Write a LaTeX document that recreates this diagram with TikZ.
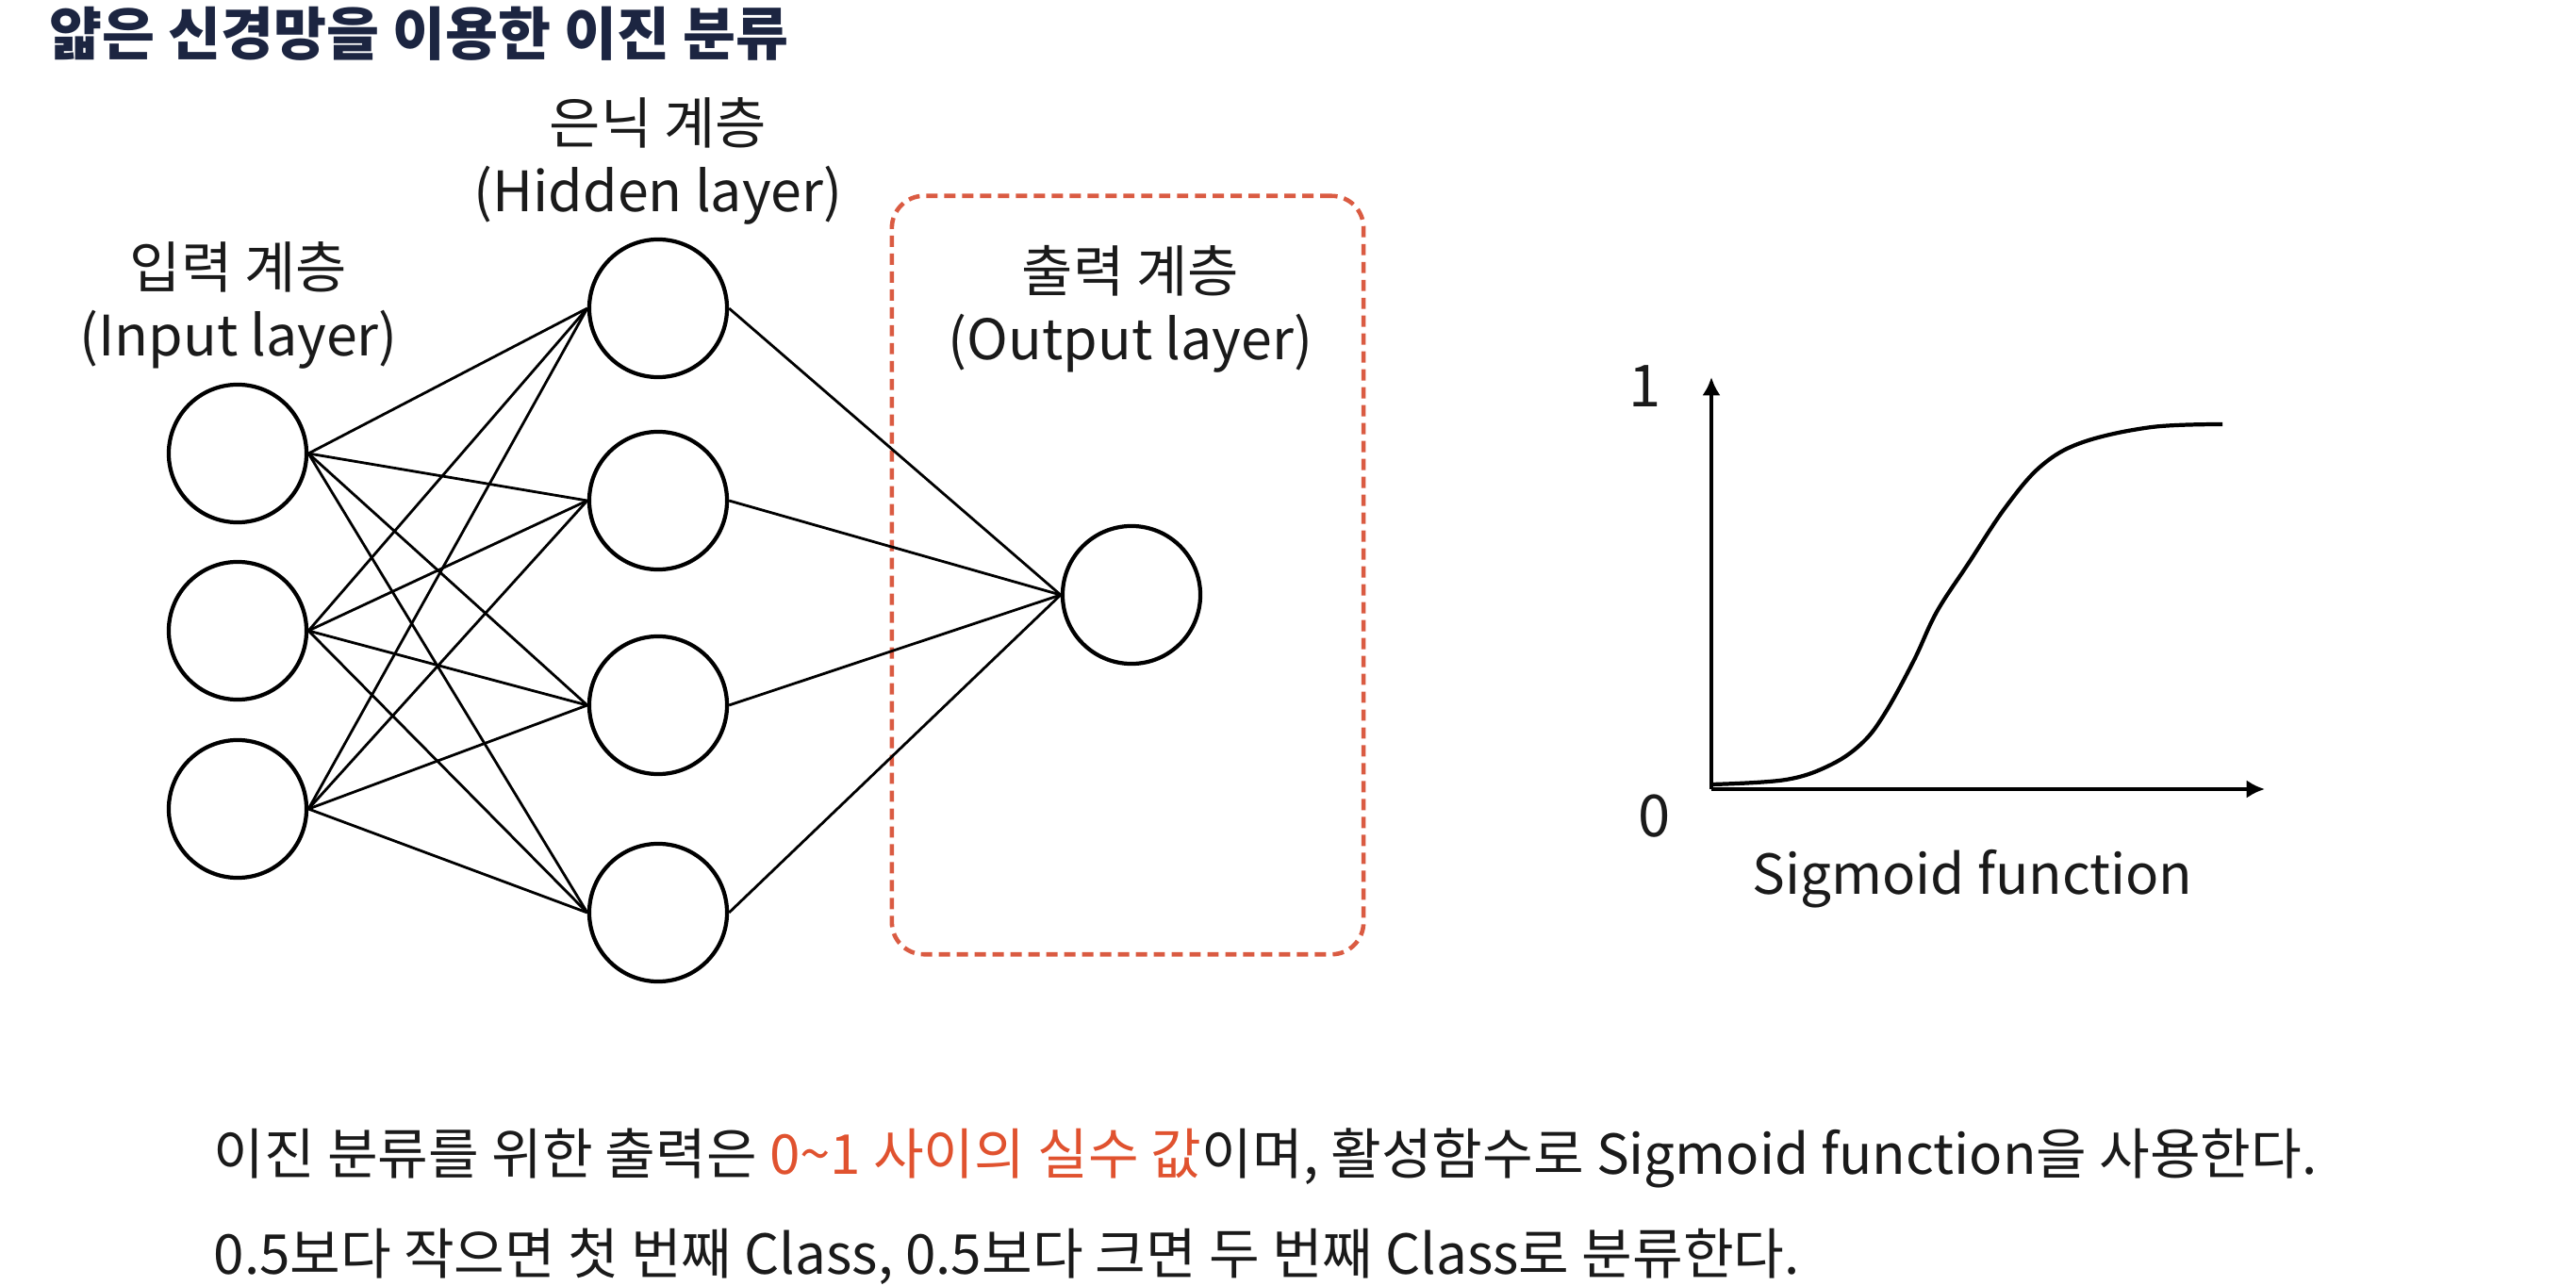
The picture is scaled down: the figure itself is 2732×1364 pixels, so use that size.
\documentclass[tikz,border=0pt]{standalone}
\usepackage{fontspec}
\setmainfont{Noto Sans CJK KR}
\usetikzlibrary{arrows.meta}
\definecolor{titlecol}{HTML}{1C2541}
\definecolor{boxred}{HTML}{DA5B42}
\definecolor{hlred}{HTML}{E0522F}
\definecolor{txt}{HTML}{1A1A1A}
\begin{document}
\begin{tikzpicture}[x=0.01cm,y=-0.01cm,
  neuron/.style={circle,draw=black,line width=1.2pt,minimum size=1.46cm,inner sep=0pt},
  edge/.style={line width=0.8pt,draw=black},
  lbl/.style={align=center,text=txt,font=\fontsize{16.8}{20.5}\selectfont},
  axisline/.style={line width=1.2pt,-{Latex[length=5.5pt,width=5.5pt]}},
  curveline/.style={line width=1.2pt},
  outbox/.style={draw=boxred,line width=1.3pt,dash pattern=on 3.4pt off 2pt,rounded corners=0.34cm,minimum width=5cm,minimum height=8.04cm,inner sep=0pt},
  bodytext/.style={anchor=west,inner sep=0pt,text=txt,font=\fontsize{16.6}{20}\selectfont}]
\useasboundingbox (0,0) rectangle (2732,1364);

% title
\node[anchor=west,inner sep=0pt,text=titlecol,font=\fontsize{17.3}{20}\selectfont\bfseries] (title) at (52,36) {얇은 신경망을 이용한 이진 분류};

% output box
\node[outbox] (box) at (1196,610) {};

% neurons
\node[neuron] (i1) at (252,481) {};
\node[neuron] (i2) at (252,669) {};
\node[neuron] (i3) at (252,858) {};
\node[neuron] (h1) at (698,327) {};
\node[neuron] (h2) at (698,531) {};
\node[neuron] (h3) at (698,748) {};
\node[neuron] (h4) at (698,968) {};
\node[neuron] (o) at (1200,631) {};

\foreach \i in {1,2,3}{
  \foreach \j in {1,2,3,4}{
    \draw[edge] (i\i.east) -- (h\j.west);
  }
}
\foreach \j in {1,2,3,4}{
  \draw[edge] (h\j.east) -- (o.west);
}

% layer labels
\node[lbl] (li) at (253,324) {입력 계층\\(Input layer)};
\node[lbl] (lh) at (698,171) {은닉 계층\\(Hidden layer)};
\node[lbl] (lo) at (1199,328) {출력 계층\\(Output layer)};

% sigmoid plot
\coordinate (org) at (1815,837);
\coordinate (ytip) at (1815,400);
\coordinate (xtip) at (2402,837);
\draw[axisline] (org) -- (ytip);
\draw[axisline] (org) -- (xtip);
\draw[curveline] plot[smooth,tension=0.6] coordinates {(1815,832) (1894,827) (1942,811) (1976,787) (2000,755) (2030,700) (2054,649) (2088,597) (2127,538) (2165,494) (2209,469) (2282,453) (2357,450)};
\node[text=txt,font=\fontsize{17.5}{20}\selectfont] (one) at (1745,410) {1};
\node[text=txt,font=\fontsize{17.5}{20}\selectfont] (zero) at (1755,866) {0};
\node[text=txt,font=\fontsize{16.6}{20}\selectfont] (sig) at (2092,932) {Sigmoid function};

% bottom text
\node[bodytext] (t1) at (226,1228) {이진 분류를 위한 출력은 \textcolor{hlred}{0\textasciitilde 1 사이의 실수 값}이며, 활성함수로 Sigmoid function을 사용한다.};
\node[bodytext] (t2) at (226,1333) {0.5보다 작으면 첫 번째 Class, 0.5보다 크면 두 번째 Class로 분류한다.};
\end{tikzpicture}
\end{document}
